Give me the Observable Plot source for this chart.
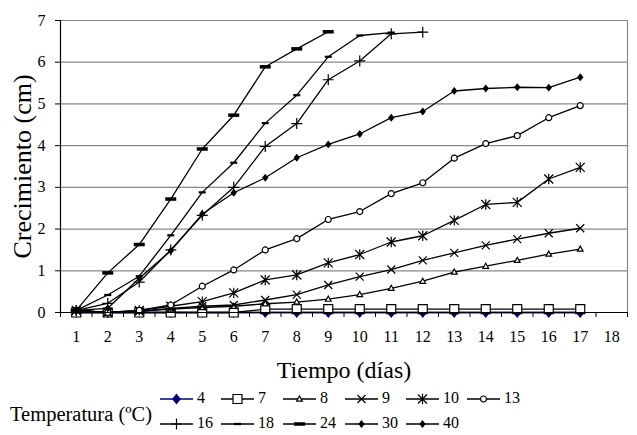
<!DOCTYPE html>
<html><head><meta charset="utf-8">
<script src="https://cdn.jsdelivr.net/npm/d3@7"></script>
<script src="https://cdn.jsdelivr.net/npm/@observablehq/plot@0.6"></script>
</head><body style="margin:0;background:#fff">
<div id="chart" style="width:637px"></div>
<script>
// ---- data ----
const tickLabels = d3.range(1, 19);
const temps = ["4","7","8","9","10","13","16","18","24","30","40"];
const s4  = [0,0,0,0,0,0,0,0,0,0,0,0,0,0,0,0,0];
const s7  = [0,0,0,0,0,0,0.08,0.08,0.08,0.08,0.08,0.08,0.08,0.08,0.08,0.08,0.08];
const s8  = [0.05,0,0.03,0.08,0.12,0.15,0.21,0.25,0.32,0.43,0.58,0.75,0.97,1.11,1.25,1.4,1.52];
const s9  = [0.05,0,0.03,0.1,0.15,0.18,0.3,0.43,0.66,0.86,1.03,1.25,1.43,1.61,1.76,1.9,2.02];
const s10 = [0.05,0,0.05,0.15,0.26,0.47,0.78,0.9,1.19,1.39,1.69,1.84,2.21,2.59,2.64,3.2,3.48];
const s13 = [0.05,0,0.05,0.18,0.63,1.02,1.5,1.77,2.23,2.42,2.85,3.11,3.7,4.05,4.24,4.67,4.96];
const s16 = [0.05,0.22,0.73,1.5,2.33,3.0,3.98,4.53,5.58,6.03,6.68,6.72];
const s18 = [0.05,0.42,0.87,1.85,2.88,3.59,4.54,5.21,6.13,6.64,6.71];
const s24 = [0.05,0.95,1.63,2.72,3.92,4.73,5.89,6.32,6.73];
const s30 = [0.05,0.1,0.82,1.48,2.36,2.87,3.23,3.71,4.03,4.28,4.67,4.82,5.31,5.37,5.4,5.39,5.64];
const s40 = [0,0,0,0,0,0,0,0,0,0,0,0,0,0,0,0,0];

const FONT = "Liberation Serif";
const R = s => Math.sqrt(s / Math.PI);
const sym = {
  diamond: {draw(c, s){const r=R(s); c.moveTo(0,-r); c.lineTo(r*0.8,0); c.lineTo(0,r); c.lineTo(-r*0.8,0); c.closePath();}},
  square: {draw(c, s){const r=R(s); c.rect(-r,-r,2*r,2*r);}},
  triangle: {draw(c, s){const r=R(s); c.moveTo(0,-r); c.lineTo(r*0.95,r*0.7); c.lineTo(-r*0.95,r*0.7); c.closePath();}},
  times: {draw(c, s){const r=R(s); c.moveTo(-r,-r); c.lineTo(r,r); c.moveTo(r,-r); c.lineTo(-r,r);}},
  asterisk: {draw(c, s){const r=R(s); c.moveTo(-r,-r); c.lineTo(r,r); c.moveTo(r,-r); c.lineTo(-r,r); c.moveTo(0,-r*1.15); c.lineTo(0,r*1.15);}},
  circle: {draw(c, s){const r=R(s); c.moveTo(r,0); c.arc(0,0,r,0,2*Math.PI);}},
  plus: {draw(c, s){const r=R(s); c.moveTo(-r,0); c.lineTo(r,0); c.moveTo(0,-r); c.lineTo(0,r);}},
  dash: {draw(c, s){const r=R(s); c.rect(-r,-r*0.32,2*r,r*0.64);}}
};
const series = [
  {t:"40", v:s40, sym:sym.diamond, r:3,   fill:"#000", stroke:"#000", color:"#000"},
  {t:"4",  v:s4,  sym:sym.diamond, r:4.5, fill:"#000080", stroke:"#000080", color:"#000080"},
  {t:"7",  v:s7,  sym:sym.square,  r:4.5, fill:"#fff", stroke:"#000", color:"#000"},
  {t:"8",  v:s8,  sym:sym.triangle,r:3,   fill:"#fff", stroke:"#000", color:"#000"},
  {t:"9",  v:s9,  sym:sym.times,   r:4,   fill:"none", stroke:"#000", color:"#000"},
  {t:"10", v:s10, sym:sym.asterisk,r:4.5, fill:"none", stroke:"#000", color:"#000"},
  {t:"13", v:s13, sym:sym.circle,  r:3,   fill:"#fff", stroke:"#000", color:"#000"},
  {t:"16", v:s16, sym:sym.plus,    r:5.5, fill:"none", stroke:"#000", color:"#000"},
  {t:"18", v:s18, sym:sym.dash,    r:3.5, fill:"#000", stroke:"none", color:"#000"},
  {t:"24", v:s24, sym:sym.dash,    r:5.5, fill:"#000", stroke:"none", color:"#000"},
  {t:"30", v:s30, sym:sym.diamond, r:3,   fill:"#000", stroke:"#000", color:"#000"}
];
const rows = s => s.v.map((v, i) => ({day: i + 1, v}));
const marks = [
  Plot.ruleY(d3.range(1, 8), {stroke: "#888", strokeWidth: 1.2}),
  Plot.ruleX([18.5], {stroke: "#888", strokeWidth: 1.2}),
];
for (const s of series) {
  marks.push(Plot.line(rows(s), {x: "day", y: "v", stroke: s.color, strokeWidth: 1.3}));
  marks.push(Plot.dot(rows(s), {x: "day", y: "v", symbol: s.sym, r: s.r, fill: s.fill, stroke: s.stroke, strokeWidth: 1.2}));
}
marks.push(Plot.ruleY([0], {stroke: "#000", strokeWidth: 1.2}));
marks.push(Plot.ruleX([0.5], {stroke: "#000", strokeWidth: 1.2}));
marks.push(Plot.text(tickLabels, {x: d => d, text: d => String(d), frameAnchor: "bottom", dy: 29, fontSize: 16}));
marks.push(Plot.text(["Tiempo (días)"], {frameAnchor: "bottom", dy: 65, fontSize: 24}));
marks.push(Plot.text(["Crecimiento (cm)"], {frameAnchor: "left", textAnchor: "middle", dx: -38, rotate: -90, fontSize: 26}));

const chart = Plot.plot({
  width: 637, height: 385,
  marginLeft: 60, marginRight: 10, marginTop: 20, marginBottom: 73,
  style: {fontFamily: FONT, fontSize: "16px", color: "#000", background: "#fff"},
  x: {domain: [0.5, 18.5], ticks: d3.range(0.5, 19, 1), tickSize: 5, tickFormat: () => "", label: null},
  y: {domain: [0, 7], ticks: d3.range(0, 8), tickFormat: d3.format("d"), tickSize: 5, tickPadding: 10, label: null},
  marks
});
document.getElementById("chart").appendChild(chart);

// ---- legend ----
const lg = d3.select("#chart").append("svg").attr("width", 637).attr("height", 50).style("display", "block");
lg.append("text").attr("x", 10).attr("y", 31).attr("dominant-baseline", "middle")
  .attr("font-family", FONT).attr("font-size", 20.5).text("Temperatura (ºC)");
const cols = [160, 221, 283, 345, 406, 467];
temps.forEach((t, i) => {
  const s = series.find(d => d.t === t);
  const row = i < 6 ? 0 : 1, col = i < 6 ? i : i - 6;
  const x0 = cols[col], y0 = row === 0 ? 14 : 39;
  const g = lg.append("g").attr("transform", `translate(${x0},${y0})`);
  g.append("line").attr("x1", 0).attr("x2", 33).attr("stroke", s.color).attr("stroke-width", 1.3);
  g.append("path").attr("transform", "translate(16.5,0)")
    .attr("d", d3.symbol(s.sym, Math.PI * s.r * s.r)())
    .attr("fill", s.fill).attr("stroke", s.stroke).attr("stroke-width", 1.2);
  g.append("text").attr("x", 37).attr("dominant-baseline", "middle")
    .attr("font-family", FONT).attr("font-size", 16).text(t);
});
</script></body></html>
